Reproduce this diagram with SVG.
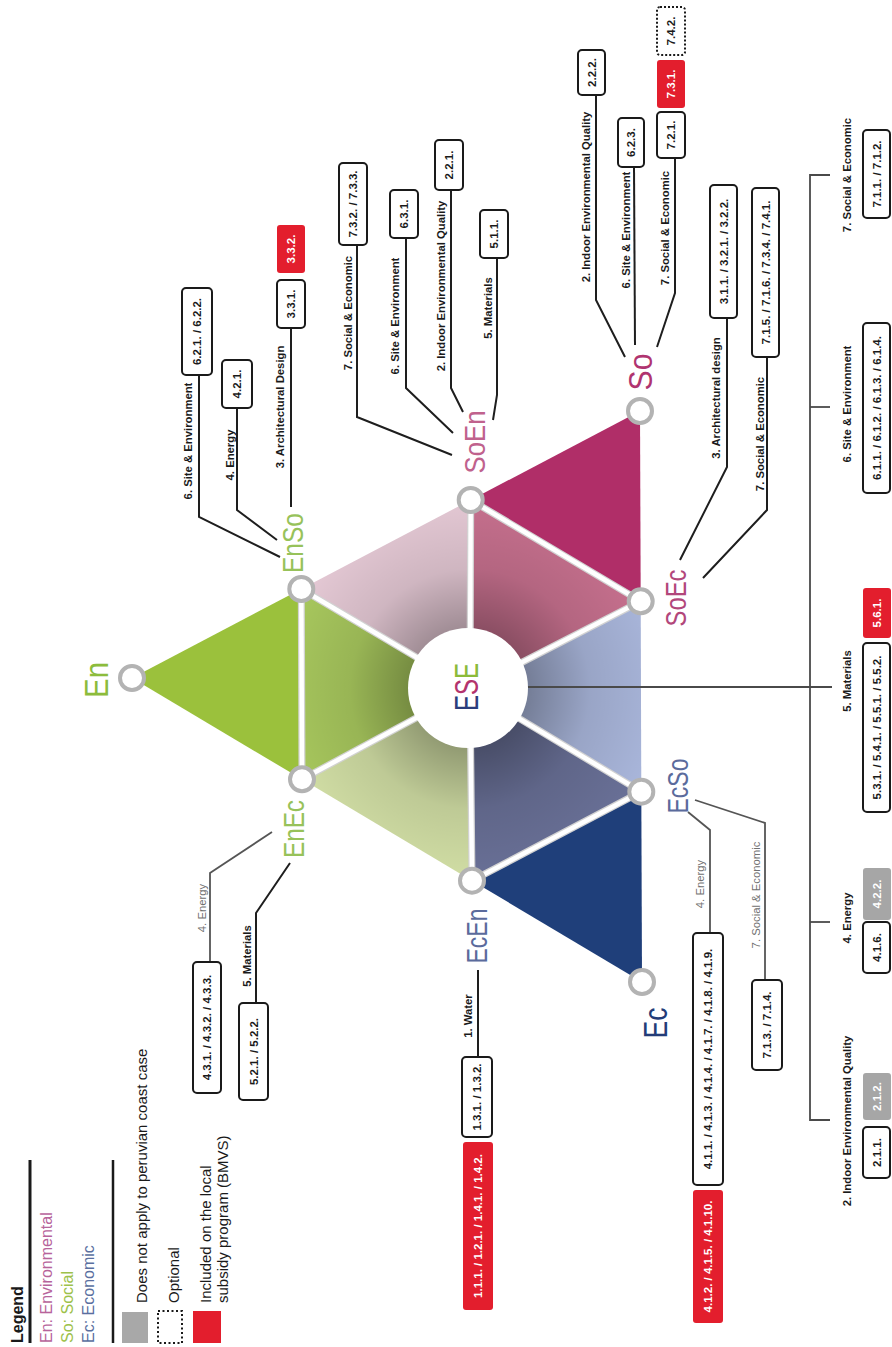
<svg xmlns="http://www.w3.org/2000/svg" width="892" height="1347" viewBox="0 0 892 1347">
<style>
  text { font-family: "Liberation Sans", Arial, sans-serif; dominant-baseline: central; }
  .lbl { font-size: 11.3px; font-weight: bold; fill: #1a1a1a; text-anchor: middle; }
  .lblg { font-size: 11.3px; fill: #707070; text-anchor: middle; }
  .bt { font-size: 11.5px; font-weight: bold; fill: #1a1a1a; text-anchor: middle; }
  .btw { font-size: 11.5px; font-weight: bold; fill: #ffffff; text-anchor: middle; }
  .box { fill: #ffffff; stroke: #1a1a1a; stroke-width: 2; }
  .boxr { fill: #e31e2d; }
  .boxg { fill: #a6a6a6; }
  .boxd { fill: #ffffff; stroke: #1a1a1a; stroke-width: 2; stroke-dasharray: 2 2; }
  .ln { fill: none; stroke: #1e1e1e; stroke-width: 2; }
  .lng { fill: none; stroke: #555555; stroke-width: 1.8; }
  .br { fill: none; stroke: #4a4a4a; stroke-width: 1.8; }
  .sep { stroke: #ffffff; stroke-width: 4.5; stroke-linecap: round; }
  .sepe { stroke: #d2d2d2; stroke-width: 7; stroke-linecap: round; }
  .vtx { fill: #ffffff; stroke: #b3b3b3; stroke-width: 4; }
  .big { font-size: 30px; text-anchor: middle; }
  .lg { font-size: 15px; fill: #1a1a1a; }
</style>
<defs>
  <radialGradient id="shade" gradientUnits="userSpaceOnUse" cx="470" cy="689" r="200">
    <stop offset="0.28" stop-color="#000000" stop-opacity="0.32"/>
    <stop offset="0.6" stop-color="#000000" stop-opacity="0.1"/>
    <stop offset="1" stop-color="#000000" stop-opacity="0"/>
  </radialGradient>
</defs>

<!-- Legend -->
<g id="legend">
  <text class="lg" style="font-size:16px;font-weight:bold" transform="translate(17 1343) rotate(-90)">Legend</text>
  <line x1="30" y1="1160" x2="30" y2="1343" stroke="#1a1a1a" stroke-width="3"/>
  <text class="lg" style="font-size:16px;fill:#b7649b" transform="translate(46.5 1343) rotate(-90)">En: Environmental</text>
  <text class="lg" style="font-size:16px;fill:#9dc14a" transform="translate(67 1343) rotate(-90)">So: Social</text>
  <text class="lg" style="font-size:16px;fill:#5a6fa0" transform="translate(88 1343) rotate(-90)">Ec: Economic</text>
  <line x1="113" y1="1160" x2="113" y2="1343" stroke="#1a1a1a" stroke-width="2.5"/>
  <rect x="122" y="1312" width="26" height="31" fill="#a8a8a8"/>
  <text class="lg" transform="translate(141 1303) rotate(-90)">Does not apply to peruvian coast case</text>
  <rect x="158" y="1311" width="24" height="32" fill="none" stroke="#1a1a1a" stroke-width="2" stroke-dasharray="2 2.5"/>
  <text class="lg" transform="translate(173 1303) rotate(-90)">Optional</text>
  <rect x="193" y="1311" width="28" height="32" fill="#e31e2d"/>
  <text class="lg" transform="translate(205 1303) rotate(-90)">Included on the local</text>
  <text class="lg" transform="translate(222 1303) rotate(-90)">subsidy program (BMVS)</text>
</g>

<!-- Triangle of Environmental / Social / Economic fields -->
<g id="triangle">
  <polygon points="132,678 301.3,589 302,779.3" fill="#9bc13c"/>
  <polygon points="470.7,500 640,411 640.7,601.3" fill="#b02e68"/>
  <polygon points="641.3,791.7 642,982 472,880.7" fill="#1f3f7a"/>
  <polygon points="301.3,589 302,779.3 470,689" fill="#a9c95e"/>
  <polygon points="301.3,589 470.7,500 470,689" fill="#e6cad6"/>
  <polygon points="470.7,500 640.7,601.3 470,689" fill="#c8718f"/>
  <polygon points="640.7,601.3 641.3,791.7 470,689" fill="#aab7dc"/>
  <polygon points="641.3,791.7 472,880.7 470,689" fill="#6a7198"/>
  <polygon points="472,880.7 302,779.3 470,689" fill="#d3e0a6"/>
  <polygon points="301.3,589 470.7,500 640.7,601.3 641.3,791.7 472,880.7 302,779.3" fill="url(#shade)"/>
  <g class="sepe">
    <line x1="301.3" y1="589" x2="302" y2="779.3"/>
    <line x1="470.7" y1="500" x2="640.7" y2="601.3"/>
    <line x1="641.3" y1="791.7" x2="472" y2="880.7"/>
    <line x1="301.3" y1="589" x2="470" y2="689"/>
    <line x1="470.7" y1="500" x2="470" y2="689"/>
    <line x1="640.7" y1="601.3" x2="470" y2="689"/>
    <line x1="641.3" y1="791.7" x2="470" y2="689"/>
    <line x1="472" y1="880.7" x2="470" y2="689"/>
    <line x1="302" y1="779.3" x2="470" y2="689"/>
  </g>
  <g class="sep">
    <line x1="301.3" y1="589" x2="302" y2="779.3"/>
    <line x1="470.7" y1="500" x2="640.7" y2="601.3"/>
    <line x1="641.3" y1="791.7" x2="472" y2="880.7"/>
    <line x1="301.3" y1="589" x2="470" y2="689"/>
    <line x1="470.7" y1="500" x2="470" y2="689"/>
    <line x1="640.7" y1="601.3" x2="470" y2="689"/>
    <line x1="641.3" y1="791.7" x2="470" y2="689"/>
    <line x1="472" y1="880.7" x2="470" y2="689"/>
    <line x1="302" y1="779.3" x2="470" y2="689"/>
  </g>
</g>

<!-- Connectors and their category labels -->
<g id="connectors">
  <!-- ESE to the category bracket -->
  <line class="br" x1="528" y1="687" x2="832" y2="687"/>
  <polyline class="br" points="830,175 810,175 810,1120 830,1120"/>
  <line class="br" x1="810" y1="407" x2="830" y2="407"/>
  <line class="br" x1="810" y1="922" x2="830" y2="922"/>
  <text class="lbl" transform="translate(847 175) rotate(-90)">7. Social &amp; Economic</text>
  <text class="lbl" transform="translate(847 404) rotate(-90)">6. Site &amp; Environment</text>
  <text class="lbl" transform="translate(847 681) rotate(-90)">5. Materials</text>
  <text class="lbl" transform="translate(847 918) rotate(-90)">4. Energy</text>
  <text class="lbl" transform="translate(847 1121) rotate(-90)">2. Indoor Environmental Quality</text>

  <!-- EnSo -->
  <polyline class="ln" points="199,375 199,517 280,557"/>
  <polyline class="ln" points="237,408 237,510 277,540"/>
  <polyline class="ln" points="291,328 291,507"/>
  <text class="lbl" transform="translate(188 441) rotate(-90)">6. Site &amp; Environment</text>
  <text class="lbl" transform="translate(230 455) rotate(-90)">4. Energy</text>
  <text class="lbl" transform="translate(280 407) rotate(-90)">3. Architectural Design</text>

  <!-- SoEn -->
  <polyline class="ln" points="357,245 357,417 452,455"/>
  <polyline class="ln" points="406,238 406,388 453,433"/>
  <polyline class="ln" points="451,190 451,388 463,412"/>
  <polyline class="ln" points="497,258 497,395 493,420"/>
  <text class="lbl" transform="translate(348 313) rotate(-90)">7. Social &amp; Economic</text>
  <text class="lbl" transform="translate(395 316) rotate(-90)">6. Site &amp; Environment</text>
  <text class="lbl" transform="translate(441 286) rotate(-90)">2. Indoor Environmental Quality</text>
  <text class="lbl" transform="translate(488 308) rotate(-90)">5. Materials</text>

  <!-- So -->
  <polyline class="ln" points="596,95 596,300 625,357"/>
  <polyline class="ln" points="634,167 635,345"/>
  <polyline class="ln" points="675,158 675,293 657,347"/>
  <text class="lbl" transform="translate(586 197) rotate(-90)">2. Indoor Environmental Quality</text>
  <text class="lbl" transform="translate(626 230) rotate(-90)">6. Site &amp; Environment</text>
  <text class="lbl" transform="translate(665 228) rotate(-90)">7. Social &amp; Economic</text>

  <!-- SoEc -->
  <polyline class="ln" points="727,318 727,467 680,560"/>
  <polyline class="ln" points="767,357 767,510 703,578"/>
  <text class="lbl" transform="translate(716 398) rotate(-90)">3. Architectural design</text>
  <text class="lbl" transform="translate(760 434) rotate(-90)">7. Social &amp; Economic</text>

  <!-- EcSo -->
  <polyline class="lng" points="688,812 710,830 710,933"/>
  <polyline class="lng" points="695,800 765,823 765,980"/>
  <text class="lblg" transform="translate(700 884) rotate(-90)">4. Energy</text>
  <text class="lblg" transform="translate(756 895) rotate(-90)">7. Social &amp; Economic</text>

  <!-- EcEn -->
  <polyline class="ln" points="478,970 478,1057"/>
  <text class="lbl" transform="translate(468 1016) rotate(-90)">1. Water</text>

  <!-- EnEc -->
  <polyline class="lng" points="210,962 210,873 272,832"/>
  <polyline class="ln" points="256,1003 256,913 290,863"/>
  <text class="lblg" transform="translate(202 908) rotate(-90)">4. Energy</text>
  <text class="lbl" transform="translate(247 956) rotate(-90)">5. Materials</text>
</g>

<!-- Central node -->
<g id="node-ESE">
  <circle cx="468" cy="688" r="60" fill="#ffffff"/>
  <text class="big" style="font-size:33px" textLength="48" lengthAdjust="spacingAndGlyphs" transform="translate(466 687) rotate(-90)"><tspan fill="#2b3d7c">E</tspan><tspan fill="#b3336d">S</tspan><tspan fill="#8cbb3a">E</tspan></text>
</g>

<!-- Vertex nodes -->
<g id="node-En">
  <circle class="vtx" cx="132" cy="678" r="12"/>
  <text class="big" fill="#8cbc3c" style="font-size:34px" textLength="36" lengthAdjust="spacingAndGlyphs" transform="translate(96 680) rotate(-90)">En</text>
</g>
<g id="node-EnSo">
  <circle class="vtx" cx="301.3" cy="589" r="12"/>
  <text class="big" fill="#97c25a" textLength="60" lengthAdjust="spacingAndGlyphs" transform="translate(292 543) rotate(-90)">EnSo</text>
</g>
<g id="node-SoEn">
  <circle class="vtx" cx="470.7" cy="500" r="12"/>
  <text class="big" fill="#c0628d" textLength="63" lengthAdjust="spacingAndGlyphs" transform="translate(474 442) rotate(-90)">SoEn</text>
</g>
<g id="node-So">
  <circle class="vtx" cx="640" cy="411" r="12"/>
  <text class="big" fill="#b03470" style="font-size:34px" textLength="37" lengthAdjust="spacingAndGlyphs" transform="translate(640 372) rotate(-90)">So</text>
</g>
<g id="node-SoEc">
  <circle class="vtx" cx="640.7" cy="601.3" r="12"/>
  <text class="big" fill="#b2477b" textLength="57" lengthAdjust="spacingAndGlyphs" transform="translate(675 598) rotate(-90)">SoEc</text>
</g>
<g id="node-EcSo">
  <circle class="vtx" cx="641.3" cy="791.7" r="12"/>
  <text class="big" fill="#5b6b9c" textLength="55" lengthAdjust="spacingAndGlyphs" transform="translate(677 786) rotate(-90)">EcSo</text>
</g>
<g id="node-Ec">
  <circle class="vtx" cx="642" cy="982" r="12"/>
  <text class="big" fill="#233c78" style="font-size:34px" textLength="31" lengthAdjust="spacingAndGlyphs" transform="translate(655 1023) rotate(-90)">Ec</text>
</g>
<g id="node-EcEn">
  <circle class="vtx" cx="472" cy="880.7" r="12"/>
  <text class="big" fill="#5b6b9c" textLength="55" lengthAdjust="spacingAndGlyphs" transform="translate(476 936) rotate(-90)">EcEn</text>
</g>
<g id="node-EnEc">
  <circle class="vtx" cx="302" cy="779.3" r="12"/>
  <text class="big" fill="#97c25a" textLength="58" lengthAdjust="spacingAndGlyphs" transform="translate(293 829) rotate(-90)">EnEc</text>
</g>

<!-- Criteria boxes: EnSo -->
<g id="box-621">
  <rect class="box" x="182" y="288" width="30" height="87" rx="4"/>
  <text class="bt" transform="translate(197 331.5) rotate(-90)">6.2.1. / 6.2.2.</text>
</g>
<g id="box-421">
  <rect class="box" x="222" y="360" width="30" height="48" rx="4"/>
  <text class="bt" transform="translate(237 384) rotate(-90)">4.2.1.</text>
</g>
<g id="box-331">
  <rect class="box" x="277" y="280" width="28" height="48" rx="4"/>
  <text class="bt" transform="translate(291 304) rotate(-90)">3.3.1.</text>
</g>
<g id="box-332">
  <rect class="boxr" x="277" y="225" width="28" height="48" rx="3"/>
  <text class="btw" transform="translate(291 249) rotate(-90)">3.3.2.</text>
</g>

<!-- Criteria boxes: SoEn -->
<g id="box-732">
  <rect class="box" x="339" y="163" width="28" height="82" rx="4"/>
  <text class="bt" transform="translate(353 204) rotate(-90)">7.3.2. / 7.3.3.</text>
</g>
<g id="box-631">
  <rect class="box" x="390" y="190" width="28" height="48" rx="4"/>
  <text class="bt" transform="translate(404 214) rotate(-90)">6.3.1.</text>
</g>
<g id="box-221">
  <rect class="box" x="435" y="140" width="28" height="50" rx="4"/>
  <text class="bt" transform="translate(449 165) rotate(-90)">2.2.1.</text>
</g>
<g id="box-511">
  <rect class="box" x="480" y="210" width="28" height="48" rx="4"/>
  <text class="bt" transform="translate(494 234) rotate(-90)">5.1.1.</text>
</g>

<!-- Criteria boxes: So -->
<g id="box-222">
  <rect class="box" x="578" y="50" width="27" height="45" rx="4"/>
  <text class="bt" transform="translate(591.5 72.5) rotate(-90)">2.2.2.</text>
</g>
<g id="box-623">
  <rect class="box" x="618" y="118" width="26" height="49" rx="4"/>
  <text class="bt" transform="translate(631 142.5) rotate(-90)">6.2.3.</text>
</g>
<g id="box-721">
  <rect class="box" x="657" y="112" width="28" height="46" rx="4"/>
  <text class="bt" transform="translate(671 135) rotate(-90)">7.2.1.</text>
</g>
<g id="box-731">
  <rect class="boxr" x="657" y="60" width="28" height="48" rx="3"/>
  <text class="btw" transform="translate(671 84) rotate(-90)">7.3.1.</text>
</g>
<g id="box-742">
  <rect class="boxd" x="657" y="7" width="28" height="48" rx="3"/>
  <text class="bt" transform="translate(671 31) rotate(-90)">7.4.2.</text>
</g>

<!-- Criteria boxes: SoEc -->
<g id="box-311">
  <rect class="box" x="710" y="185" width="27" height="133" rx="4"/>
  <text class="bt" transform="translate(723.5 251.5) rotate(-90)">3.1.1. / 3.2.1. / 3.2.2.</text>
</g>
<g id="box-715">
  <rect class="box" x="752" y="188" width="27" height="169" rx="4"/>
  <text class="bt" transform="translate(765.5 272.5) rotate(-90)">7.1.5. / 7.1.6. / 7.3.4. / 7.4.1.</text>
</g>

<!-- Criteria boxes: bracket from ESE -->
<g id="box-711">
  <rect class="box" x="863" y="130" width="27" height="88" rx="4"/>
  <text class="bt" transform="translate(876.5 174) rotate(-90)">7.1.1. / 7.1.2.</text>
</g>
<g id="box-611">
  <rect class="box" x="863" y="323" width="27" height="170" rx="4"/>
  <text class="bt" transform="translate(876.5 408) rotate(-90)">6.1.1. / 6.1.2. / 6.1.3. / 6.1.4.</text>
</g>
<g id="box-561">
  <rect class="boxr" x="863" y="588" width="28" height="50" rx="3"/>
  <text class="btw" transform="translate(877 613) rotate(-90)">5.6.1.</text>
</g>
<g id="box-531">
  <rect class="box" x="863" y="643" width="27" height="169" rx="4"/>
  <text class="bt" transform="translate(876.5 727.5) rotate(-90)">5.3.1. / 5.4.1. / 5.5.1. / 5.5.2.</text>
</g>
<g id="box-422">
  <rect class="boxg" x="863" y="868" width="28" height="52" rx="3"/>
  <text class="btw" transform="translate(877 894) rotate(-90)">4.2.2.</text>
</g>
<g id="box-416">
  <rect class="box" x="863" y="922" width="27" height="51" rx="4"/>
  <text class="bt" transform="translate(876.5 947.5) rotate(-90)">4.1.6.</text>
</g>
<g id="box-212">
  <rect class="boxg" x="863" y="1073" width="28" height="47" rx="3"/>
  <text class="btw" transform="translate(877 1096.5) rotate(-90)">2.1.2.</text>
</g>
<g id="box-211">
  <rect class="box" x="863" y="1127" width="27" height="51" rx="4"/>
  <text class="bt" transform="translate(876.5 1152.5) rotate(-90)">2.1.1.</text>
</g>

<!-- Criteria boxes: EcSo -->
<g id="box-411">
  <rect class="box" x="693" y="933" width="30" height="252" rx="4"/>
  <text class="bt" transform="translate(708 1059) rotate(-90)">4.1.1. / 4.1.3. / 4.1.4. / 4.1.7. / 4.1.8. / 4.1.9.</text>
</g>
<g id="box-412">
  <rect class="boxr" x="693" y="1190" width="30" height="133" rx="3"/>
  <text class="btw" transform="translate(708 1256.5) rotate(-90)">4.1.2. / 4.1.5. / 4.1.10.</text>
</g>
<g id="box-713">
  <rect class="box" x="752" y="980" width="30" height="90" rx="4"/>
  <text class="bt" transform="translate(767 1025) rotate(-90)">7.1.3. / 7.1.4.</text>
</g>

<!-- Criteria boxes: EcEn -->
<g id="box-131">
  <rect class="box" x="462" y="1057" width="30" height="80" rx="4"/>
  <text class="bt" transform="translate(477 1097) rotate(-90)">1.3.1. / 1.3.2.</text>
</g>
<g id="box-111">
  <rect class="boxr" x="463" y="1142" width="30" height="168" rx="3"/>
  <text class="btw" transform="translate(478 1226) rotate(-90)">1.1.1. / 1.2.1. / 1.4.1. / 1.4.2.</text>
</g>

<!-- Criteria boxes: EnEc -->
<g id="box-431">
  <rect class="box" x="193" y="962" width="28" height="131" rx="4"/>
  <text class="bt" transform="translate(207 1027.5) rotate(-90)">4.3.1. / 4.3.2. / 4.3.3.</text>
</g>
<g id="box-521">
  <rect class="box" x="239" y="1003" width="29" height="97" rx="4"/>
  <text class="bt" transform="translate(253.5 1051.5) rotate(-90)">5.2.1. / 5.2.2.</text>
</g>
</svg>
